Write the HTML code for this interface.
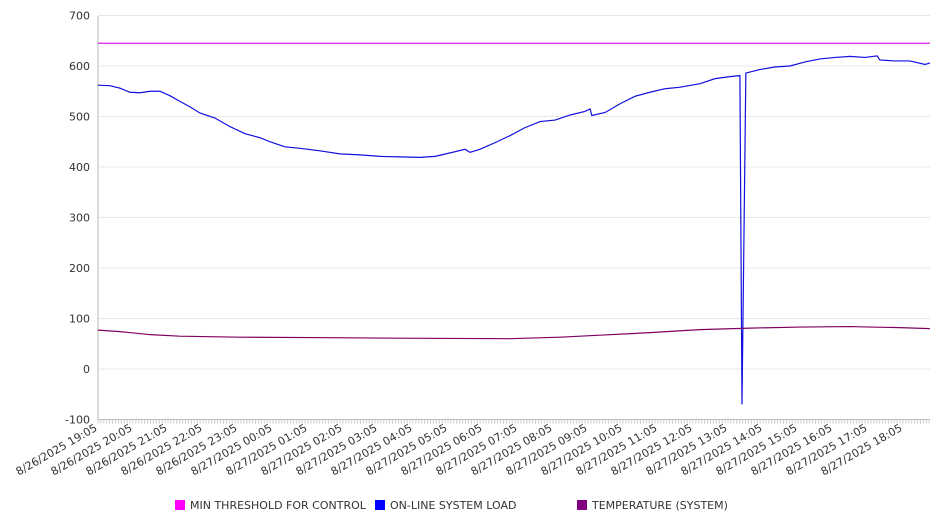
<!DOCTYPE html>
<html><head><meta charset="utf-8"><style>
body{margin:0;background:#fff;}
svg text{font-family:"DejaVu Sans","Liberation Sans",sans-serif;font-size:11px;fill:#333;}
</style></head><body>
<svg id="chart" width="946" height="526" xmlns="http://www.w3.org/2000/svg">
<g id="grid"></g><g id="axes"></g><g id="series"></g>
<g id="legend">
 <rect x="175" y="500" width="10" height="10" fill="#ff00ff"/>
 <text x="190" y="509">MIN THRESHOLD FOR CONTROL</text>
 <rect x="375" y="500" width="10" height="10" fill="#0000ff"/>
 <text x="390" y="509">ON-LINE SYSTEM LOAD</text>
 <rect x="577" y="500" width="10" height="10" fill="#800080"/>
 <text x="592" y="509">TEMPERATURE (SYSTEM)</text>
</g>
</svg>
<script>
const xLabels=["8/26/2025 19:05","8/26/2025 20:05","8/26/2025 21:05","8/26/2025 22:05","8/26/2025 23:05","8/27/2025 00:05","8/27/2025 01:05","8/27/2025 02:05","8/27/2025 03:05","8/27/2025 04:05","8/27/2025 05:05","8/27/2025 06:05","8/27/2025 07:05","8/27/2025 08:05","8/27/2025 09:05","8/27/2025 10:05","8/27/2025 11:05","8/27/2025 12:05","8/27/2025 13:05","8/27/2025 14:05","8/27/2025 15:05","8/27/2025 16:05","8/27/2025 17:05","8/27/2025 18:05"];
const yTicks=[-100,0,100,200,300,400,500,600,700];
const threshold=645;
const loadHours=[0,0.34,0.63,0.91,1.2,1.49,1.77,2.06,2.34,2.63,2.91,3.34,3.77,4.2,4.63,4.91,5.34,5.77,6.34,6.91,7.49,8.06,8.63,9.2,9.63,10.06,10.49,10.63,10.91,11.34,11.77,12.2,12.63,13.06,13.49,13.91,14.06,14.11,14.49,14.91,15.34,15.77,16.2,16.63,17.2,17.63,18.06,18.34,18.4,18.51,18.91,19.34,19.77,20.2,20.63,21.06,21.49,21.91,22.26,22.34,22.77,23.2,23.63,23.77];
const loadVals=[562,561,556,548,547,550,550,541,530,519,507,497,480,466,458,450,440,437,432,426,424,421,420,419,421,428,435,429,435,448,462,478,490,493,503,510,515,502,508,525,540,548,555,558,565,575,579,581,-70,586,593,598,600,608,614,617,619,617,620,612,610,610,603,606];
const tempHours=[0,0.63,1.49,2.34,4.06,6.63,8.63,11.77,13.2,14.34,15.77,17.2,18.63,20.06,21.49,22.06,22.91,23.77];
const tempVals=[77,74,68,65,63,62,61,60,63,67,72,78,81,83,84,83,82,80];
const X0=98,X1=930,HOURW=35,Y0=369,YS=404/800;
const xs=h=>X0+h*HOURW, ys=v=>Y0-v*YS;
const NS="http://www.w3.org/2000/svg";
function mk(t,a,p){const e=document.createElementNS(NS,t);for(const k in a)e.setAttribute(k,a[k]);document.getElementById(p).appendChild(e);return e;}
yTicks.forEach(v=>{
 const l=mk('line',{x1:X0,x2:X1,y1:ys(v),y2:ys(v),stroke:v===-100?'#bbb':'#e8e8e8'},'grid');
 
 
 const t=mk('text',{x:90,y:ys(v)+4,'text-anchor':'end'},'axes');t.textContent=v;
 
 
});
const ax=mk('line',{x1:X0,x2:X0,y1:16,y2:ys(-100),stroke:'#bbb'},'axes');


for(let m=0;m<=23.8*12;m++){const x=xs(m/12);const tk=mk('line',{x1:x,x2:x,y1:ys(-100),y2:ys(-100)+4,stroke:'#ccc'},'axes');
 
 }
xLabels.forEach((s,i)=>{const x=xs(i);
 const t=mk('text',{x:x,y:430,'text-anchor':'end',transform:`rotate(-30 ${x} 430)`},'axes');t.textContent=s;
 
 });
const th=mk('line',{x1:X0,x2:X1,y1:ys(threshold),y2:ys(threshold),stroke:'#e020e0','stroke-width':1.2},'series');


const lp=mk('polyline',{points:loadHours.map((h,i)=>xs(h)+','+ys(loadVals[i])).join(' '),fill:'none',stroke:'#1010e0','stroke-width':1.2},'series');


const tp=mk('polyline',{points:tempHours.map((h,i)=>xs(h)+','+ys(tempVals[i])).join(' '),fill:'none',stroke:'#800060','stroke-width':1.2},'series');


</script>
</body></html>
